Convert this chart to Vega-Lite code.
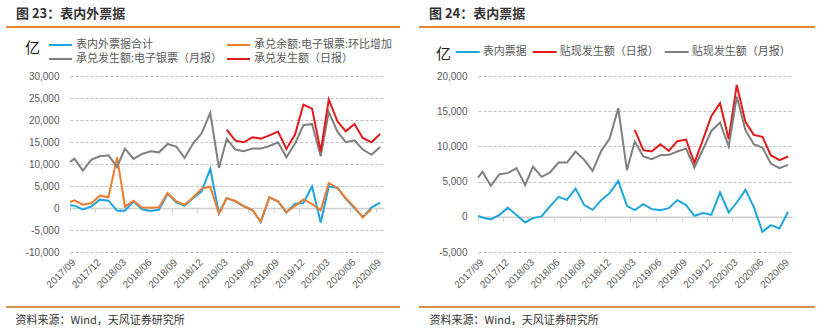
{
  "$schema": "https://vega.github.io/schema/vega-lite/v6.json",
  "padding": {"left": 5, "top": 8, "right": 5, "bottom": 4},
  "config": {
    "view": {"stroke": null},
    "font": "Noto Sans CJK SC",
    "legend": {"padding": 0},
    "axisY": {"tickCount": 20, "labelOverlap": false, "domain": false, "ticks": false, "grid": true, "gridDash": [3, 2], "gridColor": "#BFBFBF", "gridWidth": 1, "labelPadding": 11, "labelFontSize": 10, "labelFont": "Liberation Sans", "labelColor": "#595959"}
  },
  "resolve": {"scale": {"color": "independent"}, "legend": {"color": "independent"}},
  "datasets": {
    "d1": [
      {"date": "2017/09/01", "表内外票据合计": 610, "承兑余额:电子银票:环比增加": 1360, "承兑发生额:电子银票（月报）": 10450},
      {"date": "2017/09/17", "表内外票据合计": 530, "承兑余额:电子银票:环比增加": 1740, "承兑发生额:电子银票（月报）": 11200},
      {"date": "2017/10/17", "表内外票据合计": -300, "承兑余额:电子银票:环比增加": 760, "承兑发生额:电子银票（月报）": 8480},
      {"date": "2017/11/17", "表内外票据合计": 380, "承兑余额:电子银票:环比增加": 1140, "承兑发生额:电子银票（月报）": 10980},
      {"date": "2017/12/17", "表内外票据合计": 1900, "承兑余额:电子银票:环比增加": 2800, "承兑发生额:电子银票（月报）": 11740},
      {"date": "2018/01/17", "表内外票据合计": 1670, "承兑余额:电子银票:环比增加": 2430, "承兑发生额:电子银票（月报）": 11970},
      {"date": "2018/02/17", "表内外票据合计": -610, "承兑余额:电子银票:环比增加": 11520, "承兑发生额:电子银票（月报）": 9320},
      {"date": "2018/03/17", "表内外票据合计": -610, "承兑余额:电子银票:环比增加": 300, "承兑发生额:电子银票（月报）": 13480},
      {"date": "2018/04/17", "表内外票据合计": 1520, "承兑余额:电子银票:环比增加": 1670, "承兑发生额:电子银票（月报）": 11140},
      {"date": "2018/05/17", "表内外票据合计": -300, "承兑余额:电子银票:环比增加": 100, "承兑发生额:电子银票（月报）": 12270},
      {"date": "2018/06/17", "表内外票据合计": -700, "承兑余额:电子银票:环比增加": 50, "承兑发生额:电子银票（月报）": 12880},
      {"date": "2018/07/17", "表内外票据合计": -400, "承兑余额:电子银票:环比增加": 150, "承兑发生额:电子银票（月报）": 12650},
      {"date": "2018/08/17", "表内外票据合计": 3260, "承兑余额:电子银票:环比增加": 3410, "承兑发生额:电子银票（月报）": 14550},
      {"date": "2018/09/17", "表内外票据合计": 1290, "承兑余额:电子银票:环比增加": 1520, "承兑发生额:电子银票（月报）": 13940},
      {"date": "2018/10/17", "表内外票据合计": 530, "承兑余额:电子银票:环比增加": 760, "承兑发生额:电子银票（月报）": 11360},
      {"date": "2018/11/17", "表内外票据合计": 2270, "承兑余额:电子银票:环比增加": 2430, "承兑发生额:电子银票（月报）": 14700},
      {"date": "2018/12/17", "表内外票据合计": 3800, "承兑余额:电子银票:环比增加": 4400, "承兑发生额:电子银票（月报）": 16970},
      {"date": "2019/01/17", "表内外票据合计": 8900, "承兑余额:电子银票:环比增加": 4850, "承兑发生额:电子银票（月报）": 21600},
      {"date": "2019/02/17", "表内外票据合计": -1200, "承兑余额:电子银票:环比增加": -1300, "承兑发生额:电子银票（月报）": 9100},
      {"date": "2019/03/17", "表内外票据合计": 2280, "承兑余额:电子银票:环比增加": 2270, "承兑发生额:电子银票（月报）": 15700, "承兑发生额（日报）": 17810},
      {"date": "2019/04/17", "表内外票据合计": 1520, "承兑余额:电子银票:环比增加": 1600, "承兑发生额:电子银票（月报）": 13280, "承兑发生额（日报）": 15310},
      {"date": "2019/05/17", "表内外票据合计": 380, "承兑余额:电子银票:环比增加": 450, "承兑发生额:电子银票（月报）": 12900, "承兑发生额（日报）": 14930},
      {"date": "2019/06/17", "表内外票据合计": -450, "承兑余额:电子银票:环比增加": -450, "承兑发生额:电子银票（月报）": 13500, "承兑发生额（日报）": 16070},
      {"date": "2019/07/17", "表内外票据合计": -3180, "承兑余额:电子银票:环比增加": -3100, "承兑发生额:电子银票（月报）": 13500, "承兑发生额（日报）": 15770},
      {"date": "2019/08/17", "表内外票据合计": 2430, "承兑余额:电子银票:环比增加": 2430, "承兑发生额:电子银票（月报）": 14100, "承兑发生额（日报）": 16520},
      {"date": "2019/09/17", "表内外票据合计": 1520, "承兑余额:电子银票:环比增加": 1520, "承兑发生额:电子银票（月报）": 14950, "承兑发生额（日报）": 17360},
      {"date": "2019/10/17", "表内外票据合计": -990, "承兑余额:电子银票:环比增加": -950, "承兑发生额:电子银票（月报）": 11530, "承兑发生额（日报）": 13420},
      {"date": "2019/11/17", "表内外票据合计": 990, "承兑余额:电子银票:环比增加": 450, "承兑发生额:电子银票（月报）": 14650, "承兑发生额（日报）": 16680},
      {"date": "2019/12/17", "表内外票据合计": 1140, "承兑余额:电子银票:环比增加": 1950, "承兑发生额:电子银票（月报）": 18800, "承兑发生额（日报）": 23500},
      {"date": "2020/01/17", "表内外票据合计": 4900, "承兑余额:电子银票:环比增加": 910, "承兑发生额:电子银票（月报）": 19100, "承兑发生额（日报）": 22590},
      {"date": "2020/02/17", "表内外票据合计": -3300, "承兑余额:电子银票:环比增加": -530, "承兑发生额:电子银票（月报）": 11750, "承兑发生额（日报）": 12890},
      {"date": "2020/03/17", "表内外票据合计": 4900, "承兑余额:电子银票:环比增加": 5690, "承兑发生额:电子银票（月报）": 21850, "承兑发生额（日报）": 24640},
      {"date": "2020/04/17", "表内外票据合计": 4600, "承兑余额:电子银票:环比增加": 4550, "承兑发生额:电子银票（月报）": 17350, "承兑发生额（日报）": 19710},
      {"date": "2020/05/17", "表内外票据合计": 2100, "承兑余额:电子银票:环比增加": 2270, "承兑发生额:电子银票（月报）": 14950, "承兑发生额（日报）": 17430},
      {"date": "2020/06/17", "表内外票据合计": 0, "承兑余额:电子银票:环比增加": 200, "承兑发生额:电子银票（月报）": 15400, "承兑发生额（日报）": 19100},
      {"date": "2020/07/17", "表内外票据合计": -2100, "承兑余额:电子银票:环比增加": -2120, "承兑发生额:电子银票（月报）": 13280, "承兑发生额（日报）": 15920},
      {"date": "2020/08/17", "表内外票据合计": 100, "承兑余额:电子银票:环比增加": -300, "承兑发生额:电子银票（月报）": 12100, "承兑发生额（日报）": 14930},
      {"date": "2020/09/17", "表内外票据合计": 1200, "承兑发生额:电子银票（月报）": 13850, "承兑发生额（日报）": 16830}
    ],
    "d2": [
      {"date": "2017/09/01", "表内票据": 140, "贴现发生额（月报）": 5580},
      {"date": "2017/09/17", "表内票据": -100, "贴现发生额（月报）": 6390},
      {"date": "2017/10/17", "表内票据": -380, "贴现发生额（月报）": 4400},
      {"date": "2017/11/17", "表内票据": 280, "贴现发生额（月报）": 6050},
      {"date": "2017/12/17", "表内票据": 1300, "贴现发生额（月报）": 6200},
      {"date": "2018/01/17", "表内票据": 240, "贴现发生额（月报）": 6910},
      {"date": "2018/02/17", "表内票据": -800, "贴现发生额（月报）": 4490},
      {"date": "2018/03/17", "表内票据": -190, "贴现发生额（月报）": 7140},
      {"date": "2018/04/17", "表内票据": 50, "贴现发生额（月报）": 5680},
      {"date": "2018/05/17", "表内票据": 1470, "贴现发生额（月报）": 6290},
      {"date": "2018/06/17", "表内票据": 2840, "贴现发生额（月报）": 7710},
      {"date": "2018/07/17", "表内票据": 2400, "贴现发生额（月报）": 7710},
      {"date": "2018/08/17", "表内票据": 4020, "贴现发生额（月报）": 9270},
      {"date": "2018/09/17", "表内票据": 1660, "贴现发生额（月报）": 8090},
      {"date": "2018/10/17", "表内票据": 990, "贴现发生额（月报）": 6530},
      {"date": "2018/11/17", "表内票据": 2370, "贴现发生额（月报）": 9370},
      {"date": "2018/12/17", "表内票据": 3360, "贴现发生额（月报）": 11120},
      {"date": "2019/01/17", "表内票据": 5110, "贴现发生额（月报）": 15420},
      {"date": "2019/02/17", "表内票据": 1560, "贴现发生额（月报）": 6620},
      {"date": "2019/03/17", "表内票据": 950, "贴现发生额（日报）": 12350, "贴现发生额（月报）": 10690},
      {"date": "2019/04/17", "表内票据": 1800, "贴现发生额（日报）": 9460, "贴现发生额（月报）": 8560},
      {"date": "2019/05/17", "表内票据": 1090, "贴现发生额（日报）": 9270, "贴现发生额（月报）": 8180},
      {"date": "2019/06/17", "表内票据": 950, "贴现发生额（日报）": 10310, "贴现发生额（月报）": 8750},
      {"date": "2019/07/17", "表内票据": 1230, "贴现发生额（日报）": 9370, "贴现发生额（月报）": 8800},
      {"date": "2019/08/17", "表内票据": 2370, "贴现发生额（日报）": 10740, "贴现发生额（月报）": 9270},
      {"date": "2019/09/17", "表内票据": 1660, "贴现发生额（日报）": 10970, "贴现发生额（月报）": 9700},
      {"date": "2019/10/17", "表内票据": 140, "贴现发生额（日报）": 7620, "贴现发生额（月报）": 7000},
      {"date": "2019/11/17", "表内票据": 520, "贴现发生额（日报）": 11000, "贴现发生额（月报）": 9600},
      {"date": "2019/12/17", "表内票据": 280, "贴现发生额（日报）": 14330, "贴现发生额（月报）": 12200},
      {"date": "2020/01/17", "表内票据": 3450, "贴现发生额（日报）": 16130, "贴现发生额（月报）": 13390},
      {"date": "2020/02/17", "表内票据": 610, "贴现发生额（日报）": 11020, "贴现发生额（月报）": 9980},
      {"date": "2020/03/17", "表内票据": 2030, "贴现发生额（日报）": 18730, "贴现发生额（月报）": 17080},
      {"date": "2020/04/17", "表内票据": 3830, "贴现发生额（日报）": 13480, "贴现发生额（月报）": 12300},
      {"date": "2020/05/17", "表内票据": 1420, "贴现发生额（日报）": 11640, "贴现发生额（月报）": 10310},
      {"date": "2020/06/17", "表内票据": -2130, "贴现发生额（日报）": 11350, "贴现发生额（月报）": 9840},
      {"date": "2020/07/17", "表内票据": -1180, "贴现发生额（日报）": 8750, "贴现发生额（月报）": 7570},
      {"date": "2020/08/17", "表内票据": -1660, "贴现发生额（日报）": 8040, "贴现发生额（月报）": 6910},
      {"date": "2020/09/17", "表内票据": 710, "贴现发生额（日报）": 8560, "贴现发生额（月报）": 7380}
    ]
  },
  "hconcat": [
    {
      "width": 314, "height": 176,
      "title": {"text": "图 23：表内外票据", "anchor": "start", "frame": "group", "dx": -54, "offset": -8, "baseline": "bottom", "fontSize": 13, "fontWeight": "bold", "color": "#333333", "font": "Noto Sans CJK SC"},
      "data": {"name": "d1"},
      "transform": [{"fold": ["表内外票据合计", "承兑余额:电子银票:环比增加", "承兑发生额:电子银票（月报）", "承兑发生额（日报）"], "as": ["series", "value"]}],
      "layer": [
        {
          "mark": {"type": "line", "strokeWidth": 2},
          "encoding": {
            "x": {"field": "date", "type": "temporal", "scale": {"domain": [{"year": 2017, "month": 9, "date": 1}, {"year": 2020, "month": 10, "date": 1}], "nice": false},
              "axis": {"orient": "bottom", "tickCount": 40, "domain": false, "ticks": false, "grid": false, "format": "%Y/%m", "labelAngle": -45, "labelAlign": "right", "labelBaseline": "top", "labelPadding": 5, "labelFontSize": 10, "labelFont": "Liberation Sans", "labelColor": "#595959", "labelOverlap": false, "labelFlush": false,
                "values": [{"year": 2017, "month": 9, "date": 1}, {"year": 2017, "month": 12, "date": 1}, {"year": 2018, "month": 3, "date": 1}, {"year": 2018, "month": 6, "date": 1}, {"year": 2018, "month": 9, "date": 1}, {"year": 2018, "month": 12, "date": 1}, {"year": 2019, "month": 3, "date": 1}, {"year": 2019, "month": 6, "date": 1}, {"year": 2019, "month": 9, "date": 1}, {"year": 2019, "month": 12, "date": 1}, {"year": 2020, "month": 3, "date": 1}, {"year": 2020, "month": 6, "date": 1}, {"year": 2020, "month": 9, "date": 1}],
                "title": "资料来源：Wind，天风证券研究所", "titleX": -55, "titleY": 68, "titleAlign": "left", "titleAnchor": "start", "titleBaseline": "middle", "titleAngle": 0, "titleFontSize": 11, "titleFontWeight": "normal", "titleColor": "#333333", "titleFont": "Noto Sans CJK SC"}},
            "y": {"field": "value", "type": "quantitative", "scale": {"domain": [-10000, 30000], "nice": false, "zero": false},
              "axis": {"values": [-10000, -5000, 0, 5000, 10000, 15000, 20000, 25000, 30000], "tickCount": 20, "labelExpr": "(datum.value < 0 ? '-' : '') + format(abs(datum.value), ',')", "labelOverlap": false, "minExtent": 64,
                "title": "亿", "titleAngle": 0, "titleX": -38, "titleY": -28.3, "titleAlign": "center", "titleBaseline": "middle", "titleFontSize": 15, "titleFontWeight": "normal", "titleColor": "#1A1A1A", "titleFont": "Noto Sans CJK SC"}},
            "color": {"field": "series", "type": "nominal",
              "scale": {"domain": ["表内外票据合计", "承兑余额:电子银票:环比增加", "承兑发生额:电子银票（月报）", "承兑发生额（日报）"], "range": ["#1EA5DF", "#ED7D31", "#7F7F7F", "#E31A1C"]},
              "legend": {"orient": "none", "legendX": -22, "legendY": -36.5, "direction": "horizontal", "columns": 2, "title": null, "symbolType": "stroke", "symbolSize": 529, "symbolStrokeWidth": 2, "clipHeight": 11, "rowPadding": 2, "columnPadding": 3, "labelOffset": 3, "labelFontSize": 11, "labelFont": "Noto Sans CJK SC", "labelColor": "#595959", "labelLimit": 300, "gridAlign": "each"}}
          }
        },
        {
          "mark": {"type": "point", "opacity": 0},
          "encoding": {
            "x": {"field": "date", "type": "temporal",
              "axis": {"orient": "bottom", "tickCount": 40, "offset": -44, "labels": false, "domain": true, "domainColor": "#D0D0D0", "domainWidth": 1.5, "ticks": true, "tickColor": "#D0D0D0", "tickSize": 4, "tickWidth": 1, "grid": false, "title": null,
                "values": [{"year": 2017, "month": 9, "date": 1}, {"year": 2017, "month": 12, "date": 1}, {"year": 2018, "month": 3, "date": 1}, {"year": 2018, "month": 6, "date": 1}, {"year": 2018, "month": 9, "date": 1}, {"year": 2018, "month": 12, "date": 1}, {"year": 2019, "month": 3, "date": 1}, {"year": 2019, "month": 6, "date": 1}, {"year": 2019, "month": 9, "date": 1}, {"year": 2019, "month": 12, "date": 1}, {"year": 2020, "month": 3, "date": 1}, {"year": 2020, "month": 6, "date": 1}, {"year": 2020, "month": 9, "date": 1}]}},
            "y": {"field": "value", "type": "quantitative"}
          }
        },
        {
          "mark": {"type": "rule", "color": "#E0883A", "strokeWidth": 2, "clip": false},
          "encoding": {
            "x": {"datum": {"year": 2017, "month": 1, "date": 15}, "type": "temporal", "axis": null},
            "x2": {"datum": {"year": 2020, "month": 11, "date": 27}},
            "y": {"datum": 41136, "type": "quantitative"}
          }
        },
        {
          "mark": {"type": "rule", "color": "#D9924A", "strokeWidth": 2, "clip": false},
          "encoding": {
            "x": {"datum": {"year": 2017, "month": 1, "date": 15}, "type": "temporal", "axis": null},
            "x2": {"datum": {"year": 2020, "month": 11, "date": 27}},
            "y": {"datum": -22500, "type": "quantitative"}
          }
        }
      ],
      "resolve": {"axis": {"x": "independent"}}
    },
    {
      "width": 314, "height": 176,
      "title": {"text": "图 24：表内票据", "anchor": "start", "frame": "group", "dx": -49, "offset": -8, "baseline": "bottom", "fontSize": 13, "fontWeight": "bold", "color": "#333333", "font": "Noto Sans CJK SC"},
      "data": {"name": "d2"},
      "transform": [{"fold": ["表内票据", "贴现发生额（日报）", "贴现发生额（月报）"], "as": ["series", "value"]}],
      "layer": [
        {
          "mark": {"type": "line", "strokeWidth": 2},
          "encoding": {
            "x": {"field": "date", "type": "temporal", "scale": {"domain": [{"year": 2017, "month": 9, "date": 1}, {"year": 2020, "month": 10, "date": 1}], "nice": false},
              "axis": {"orient": "bottom", "tickCount": 40, "domain": false, "ticks": false, "grid": false, "format": "%Y/%m", "labelAngle": -45, "labelAlign": "right", "labelBaseline": "top", "labelPadding": 5, "labelFontSize": 10, "labelFont": "Liberation Sans", "labelColor": "#595959", "labelOverlap": false, "labelFlush": false,
                "values": [{"year": 2017, "month": 9, "date": 1}, {"year": 2017, "month": 12, "date": 1}, {"year": 2018, "month": 3, "date": 1}, {"year": 2018, "month": 6, "date": 1}, {"year": 2018, "month": 9, "date": 1}, {"year": 2018, "month": 12, "date": 1}, {"year": 2019, "month": 3, "date": 1}, {"year": 2019, "month": 6, "date": 1}, {"year": 2019, "month": 9, "date": 1}, {"year": 2019, "month": 12, "date": 1}, {"year": 2020, "month": 3, "date": 1}, {"year": 2020, "month": 6, "date": 1}, {"year": 2020, "month": 9, "date": 1}],
                "title": "资料来源：Wind，天风证券研究所", "titleX": -49, "titleY": 68, "titleAlign": "left", "titleAnchor": "start", "titleBaseline": "middle", "titleAngle": 0, "titleFontSize": 11, "titleFontWeight": "normal", "titleColor": "#333333", "titleFont": "Noto Sans CJK SC"}},
            "y": {"field": "value", "type": "quantitative", "scale": {"domain": [-5000, 20000], "nice": false, "zero": false},
              "axis": {"values": [-5000, 0, 5000, 10000, 15000, 20000], "tickCount": 20, "labelExpr": "(datum.value < 0 ? '-' : '') + format(abs(datum.value), ',')", "labelOverlap": false, "minExtent": 59,
                "title": "亿", "titleAngle": 0, "titleX": -35, "titleY": -22.5, "titleAlign": "center", "titleBaseline": "middle", "titleFontSize": 15, "titleFontWeight": "normal", "titleColor": "#1A1A1A", "titleFont": "Noto Sans CJK SC"}},
            "color": {"field": "series", "type": "nominal",
              "scale": {"domain": ["表内票据", "贴现发生额（日报）", "贴现发生额（月报）"], "range": ["#1EA5DF", "#E31A1C", "#7F7F7F"]},
              "legend": {"orient": "none", "legendX": -23.3, "legendY": -29.5, "direction": "horizontal", "columns": 3, "title": null, "symbolType": "stroke", "symbolSize": 576, "symbolStrokeWidth": 2, "clipHeight": 11, "rowPadding": 2, "columnPadding": 5, "labelOffset": 2, "labelFontSize": 11, "labelFont": "Noto Sans CJK SC", "labelColor": "#595959", "labelLimit": 300, "gridAlign": "each"}}
          }
        },
        {
          "mark": {"type": "point", "opacity": 0},
          "encoding": {
            "x": {"field": "date", "type": "temporal",
              "axis": {"orient": "bottom", "tickCount": 40, "offset": -35.2, "labels": false, "domain": true, "domainColor": "#D0D0D0", "domainWidth": 1.5, "ticks": true, "tickColor": "#D0D0D0", "tickSize": 4, "tickWidth": 1, "grid": false, "title": null,
                "values": [{"year": 2017, "month": 9, "date": 1}, {"year": 2017, "month": 12, "date": 1}, {"year": 2018, "month": 3, "date": 1}, {"year": 2018, "month": 6, "date": 1}, {"year": 2018, "month": 9, "date": 1}, {"year": 2018, "month": 12, "date": 1}, {"year": 2019, "month": 3, "date": 1}, {"year": 2019, "month": 6, "date": 1}, {"year": 2019, "month": 9, "date": 1}, {"year": 2019, "month": 12, "date": 1}, {"year": 2020, "month": 3, "date": 1}, {"year": 2020, "month": 6, "date": 1}, {"year": 2020, "month": 9, "date": 1}]}},
            "y": {"field": "value", "type": "quantitative"}
          }
        },
        {
          "mark": {"type": "rule", "color": "#E0883A", "strokeWidth": 2, "clip": false},
          "encoding": {
            "x": {"datum": {"year": 2017, "month": 2, "date": 2}, "type": "temporal", "axis": null},
            "x2": {"datum": {"year": 2020, "month": 12, "date": 21}},
            "y": {"datum": 26960, "type": "quantitative"}
          }
        },
        {
          "mark": {"type": "rule", "color": "#D9924A", "strokeWidth": 2, "clip": false},
          "encoding": {
            "x": {"datum": {"year": 2017, "month": 2, "date": 2}, "type": "temporal", "axis": null},
            "x2": {"datum": {"year": 2020, "month": 12, "date": 21}},
            "y": {"datum": -12813, "type": "quantitative"}
          }
        }
      ],
      "resolve": {"axis": {"x": "independent"}}
    }
  ],
  "spacing": 17
}
